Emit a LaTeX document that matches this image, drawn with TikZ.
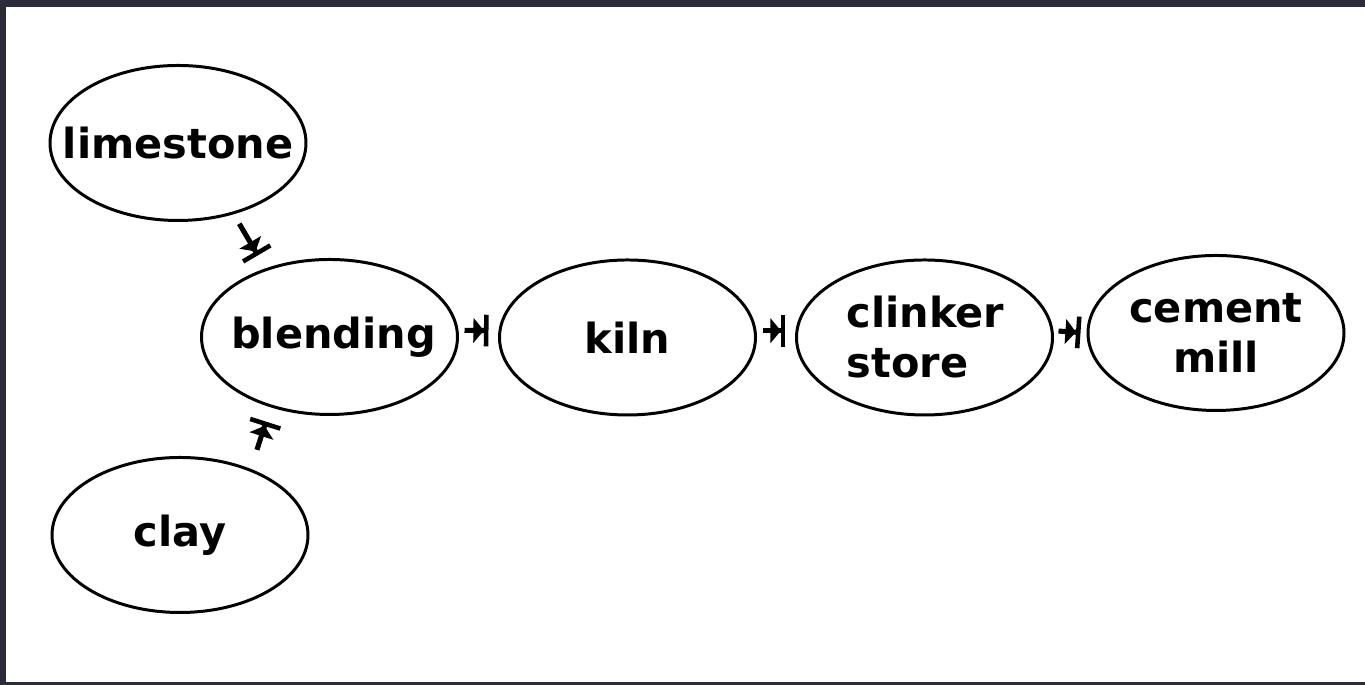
\documentclass[tikz,border=0pt]{standalone}
\usepackage{fontspec}
\setmainfont{DejaVu Sans}
\usetikzlibrary{shapes.geometric,arrows.meta}
\definecolor{frame}{HTML}{2B2B39}
\tikzset{
  proc/.style={draw=black, line width=0.85pt, ellipse, minimum width=2.56cm, minimum height=1.55cm, inner sep=0pt},
  lbl/.style={font=\fontsize{11.8pt}{14.2pt}\selectfont\bfseries, inner sep=0pt},
  flow/.style={line width=1.45pt, -{Triangle[length=3pt,width=7pt]Bar[width=9pt,line width=1.3pt]}}
}
\begin{document}
\begin{tikzpicture}[x=1cm,y=1cm]
\useasboundingbox (0,0) rectangle (13.65,6.85);
\fill[frame] (0,0) rectangle (13.65,6.85);
\fill[white] (0.06,0.03) rectangle (13.65,6.78);
% pixel -> cm: x/100, (685-y)/100
\node[proc, label={[lbl]center:limestone}] (limestone) at (1.78,5.42) {};
\node[proc, label={[lbl,xshift=0.04cm]center:blending}] (blending) at (3.295,3.48) {};
\node[proc, label={[lbl]center:kiln}] (kiln) at (6.275,3.475) {};
\node[proc, label={[lbl,align=left,xshift=0.01cm]center:clinker\\store}] (clinker) at (9.245,3.475) {};
\node[proc, label={[lbl,align=center]center:cement\\mill}] (cement) at (12.16,3.52) {};
\node[proc, label={[lbl]center:clay}] (clay) at (1.80,1.50) {};
\draw[flow, shorten <=0.11cm, shorten >=0.15cm] (limestone.-52) -- (blending.133);
\draw[flow, shorten <=0.2cm, shorten >=0.15cm] (clay.43) -- (blending.-130);
\draw[flow, shorten <=0.06cm, shorten >=0.1cm] (blending.3) -- (kiln.177);
\draw[flow, shorten <=0.06cm, shorten >=0.1cm] (kiln.3) -- (clinker.177);
\draw[flow, shorten <=0.05cm, shorten >=0.06cm] (clinker.3) -- (cement.180);
\end{tikzpicture}
\end{document}
